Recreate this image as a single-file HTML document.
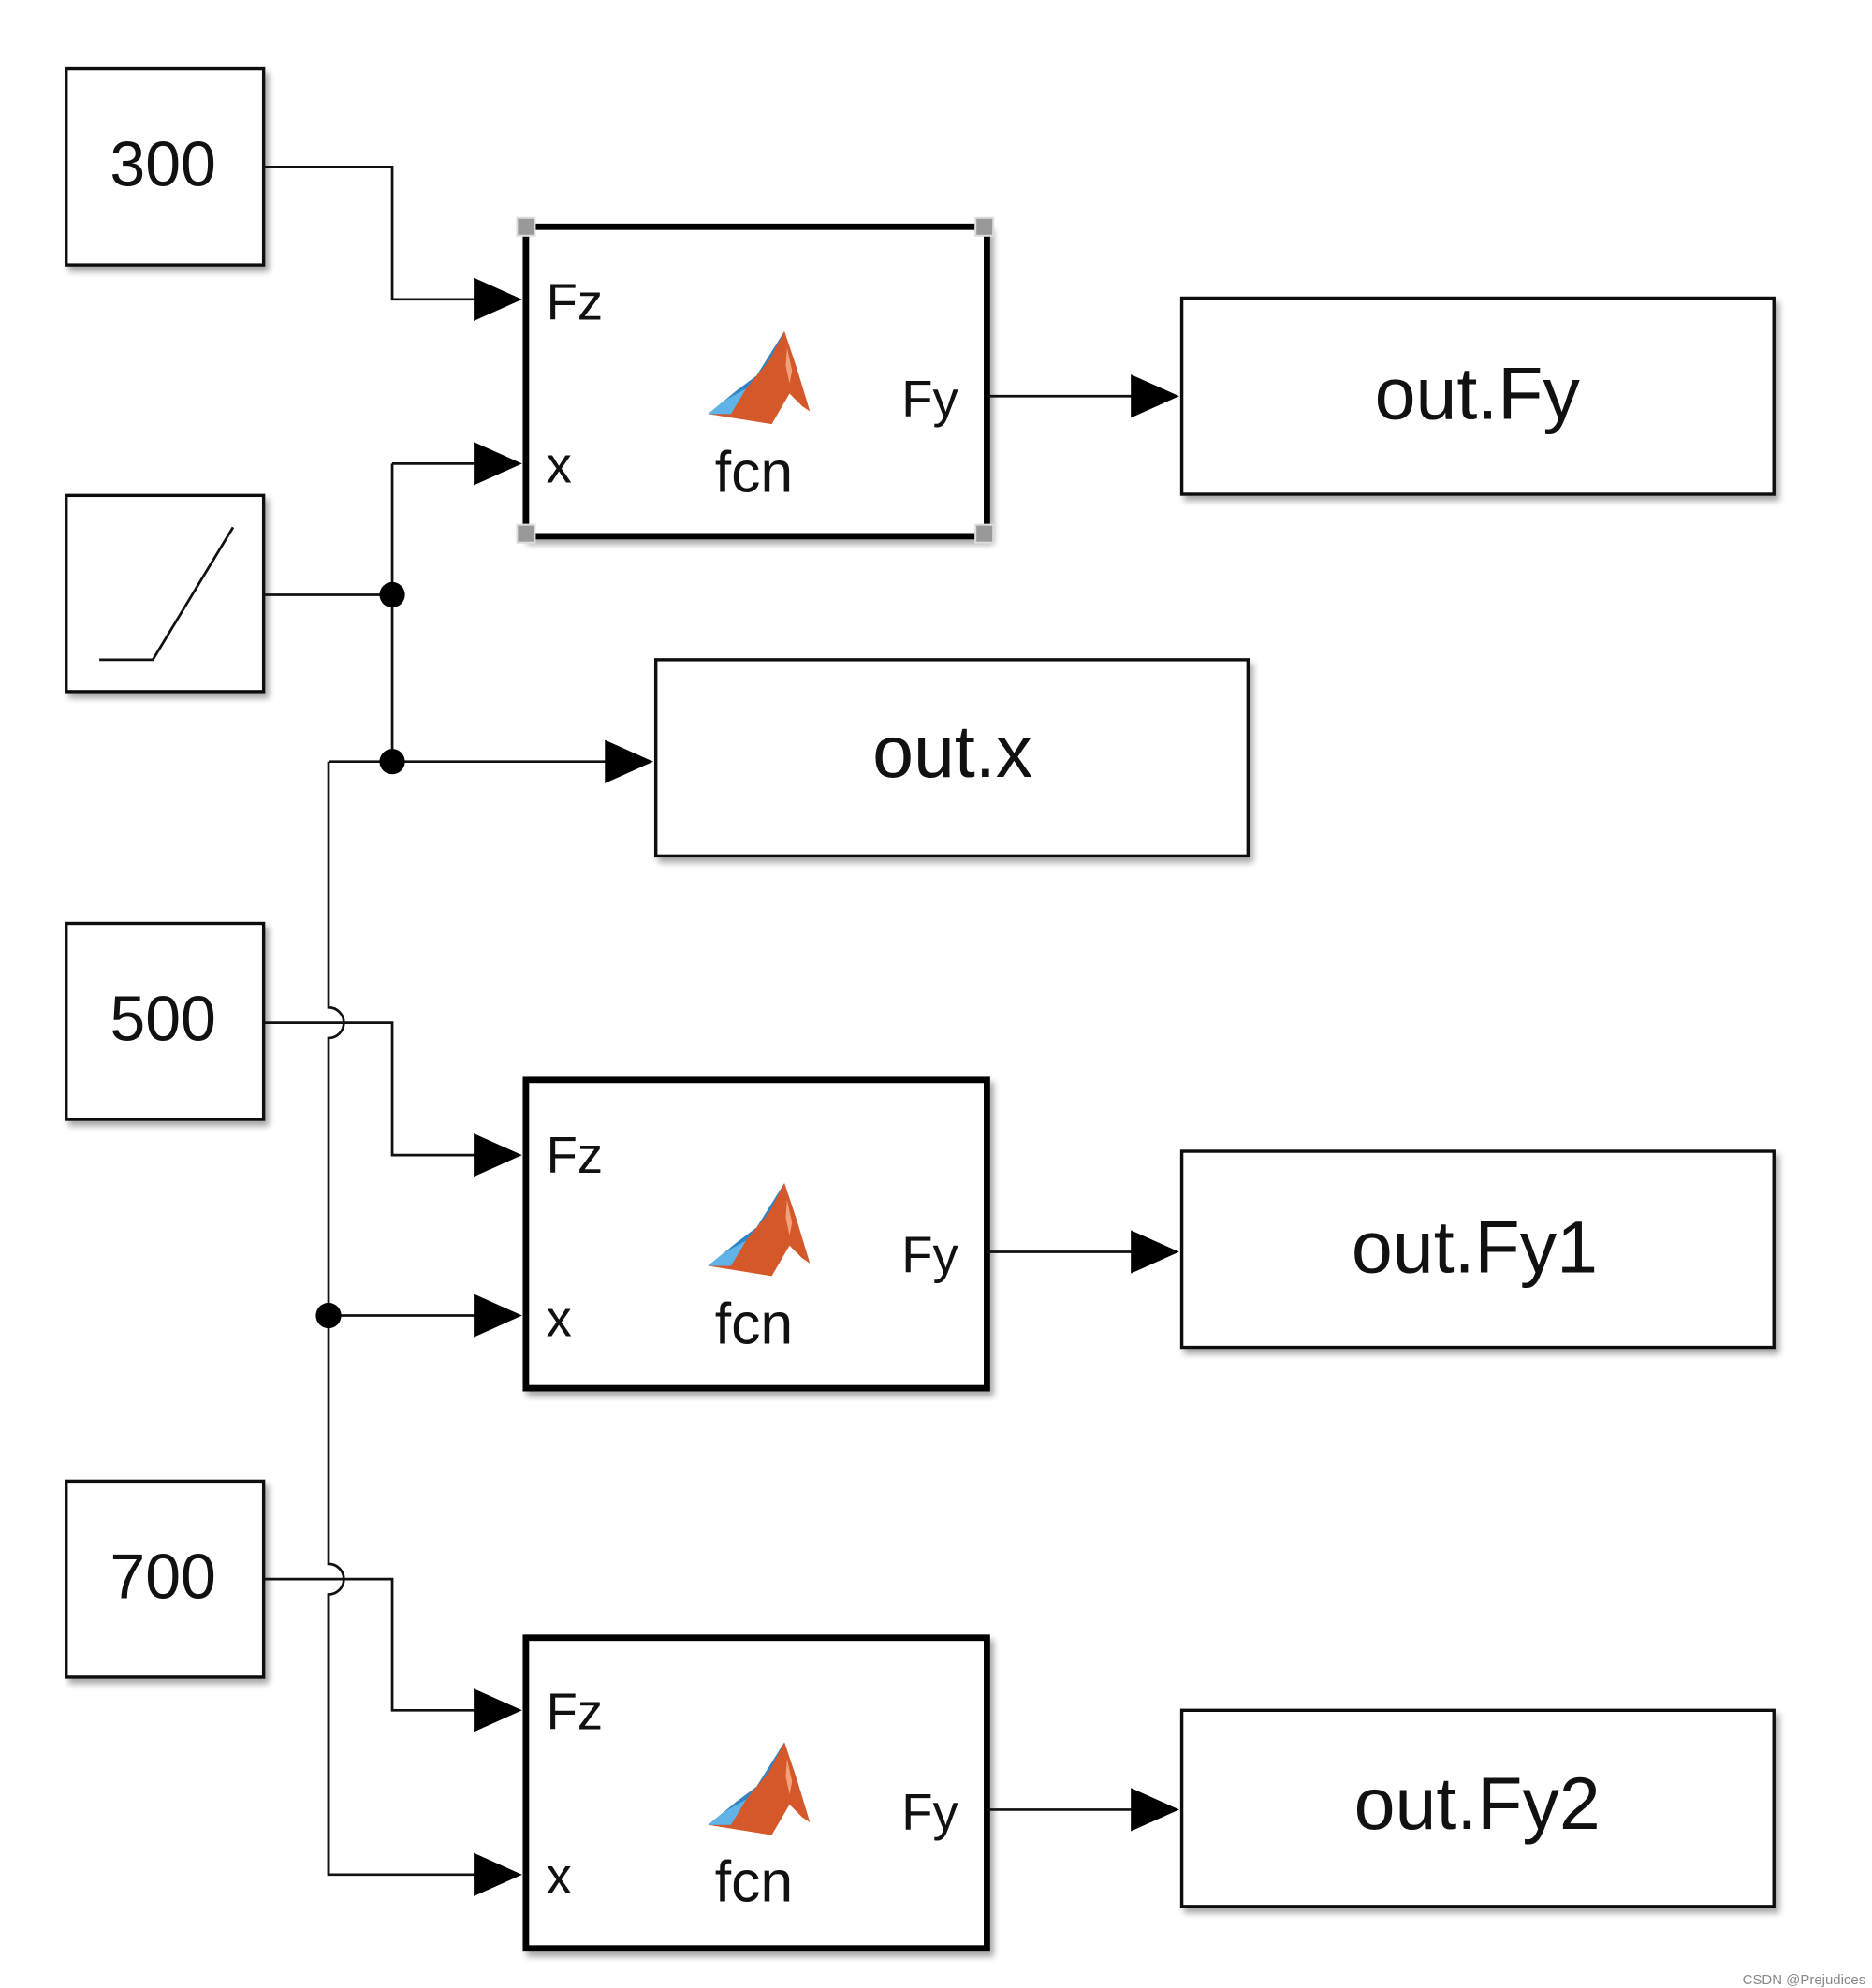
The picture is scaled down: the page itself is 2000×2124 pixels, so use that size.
<!DOCTYPE html>
<html><head><meta charset="utf-8"><style>
html,body{margin:0;padding:0;background:#fff}
svg{display:block}
text{font-family:"Liberation Sans",Arial,sans-serif;fill:#111}
</style></head><body>
<svg width="2000" height="2124" viewBox="0 0 1470 1561" xmlns="http://www.w3.org/2000/svg">
<defs>
<filter id="sh" x="-10%" y="-10%" width="130%" height="130%">
<feGaussianBlur in="SourceAlpha" stdDeviation="2.5"/>
<feOffset dx="3" dy="4"/>
<feComponentTransfer><feFuncA type="linear" slope="0.35"/></feComponentTransfer>
<feMerge><feMergeNode/><feMergeNode in="SourceGraphic"/></feMerge>
</filter>
<g id="logo">
<path d="M-40,30 L-18,12 L-2,0 L20,-35 L30,-5 L40,28 L34,24 L24,14 L10,38 Z" fill="#d4582a"/>
<path d="M-40,30 L-18,12 L-2,0 L20,-35 L8,-12 L-10,10 L-22,30 Z" fill="#2f86c6"/>
<path d="M-40,30 L-22,30 L-10,10 L-28,20 Z" fill="#5fb3e6"/>
<path d="M22,-22 L26,-4 L24,6 L21,-8 Z" fill="#f2a27a"/>
</g>
<g id="arr"><polygon points="0,-17 38,0 0,17" fill="#000"/></g>
</defs>

<!-- source blocks -->
<g fill="#fff" stroke="#111" stroke-width="2.5" filter="url(#sh)">
<rect x="52" y="54" width="155" height="154"/>
<rect x="52" y="389" width="155" height="154"/>
<rect x="52" y="725" width="155" height="154"/>
<rect x="52" y="1163" width="155" height="154"/>
<rect x="928" y="234" width="465" height="154"/>
<rect x="515" y="518" width="465" height="154"/>
<rect x="928" y="904" width="465" height="154"/>
<rect x="928" y="1343" width="465" height="154"/>
</g>
<g fill="#fff" stroke="#000" stroke-width="5" filter="url(#sh)">
<rect x="413" y="178" width="362" height="243"/>
<rect x="413" y="848" width="362" height="242"/>
<rect x="413" y="1286" width="362" height="244"/>
</g>
<!-- selection handles -->
<g fill="#999" stroke="#ddd" stroke-width="1.5">
<rect x="406" y="171" width="14" height="14"/>
<rect x="766" y="171" width="14" height="14"/>
<rect x="406" y="412" width="14" height="14"/>
<rect x="766" y="412" width="14" height="14"/>
</g>

<g font-size="50" text-anchor="middle">
<text x="128" y="146">300</text>
<text x="128" y="817">500</text>
<text x="128" y="1255">700</text>
</g>
<polyline points="78,518 120,518 183,414" fill="none" stroke="#111" stroke-width="2"/>

<g font-size="58" text-anchor="middle">
<text x="1160" y="329">out.Fy</text>
<text x="748" y="610">out.x</text>
<text x="1158" y="999">out.Fy1</text>
<text x="1160" y="1436">out.Fy2</text>
</g>

<!-- fcn blocks text -->
<g font-size="40">
<text x="429" y="251">Fz</text><text x="429" y="379">x</text><text x="708" y="327">Fy</text>
<text x="429" y="921">Fz</text><text x="429" y="1049">x</text><text x="708" y="999">Fy</text>
<text x="429" y="1358">Fz</text><text x="429" y="1487">x</text><text x="708" y="1437">Fy</text>
</g>
<g font-size="46" text-anchor="middle">
<text x="592" y="386">fcn</text>
<text x="592" y="1055">fcn</text>
<text x="592" y="1493">fcn</text>
</g>
<use href="#logo" x="596" y="295"/>
<use href="#logo" x="596" y="964"/>
<use href="#logo" x="596" y="1403"/>

<!-- wires -->
<g fill="none" stroke="#111" stroke-width="2">
<polyline points="207,131 308,131 308,235 374,235"/>
<polyline points="207,467 308,467"/>
<polyline points="308,364 374,364"/>
<polyline points="308,364 308,598"/>
<polyline points="258,1472 258,1252 M0,0"/>
<path d="M258,598 L478,598"/>
<path d="M258,598 L258,791 A12,12 0 0 1 258,815 L258,1228 A12,12 0 0 1 258,1252 L258,1472 L374,1472"/>
<polyline points="207,803 308,803 308,907 374,907"/>
<polyline points="207,1240 308,1240 308,1343 374,1343"/>
<polyline points="258,1033 374,1033"/>
<polyline points="775,311 890,311"/>
<polyline points="775,983 890,983"/>
<polyline points="775,1421 890,1421"/>
</g>
<g fill="#000">
<circle cx="308" cy="467" r="10"/>
<circle cx="308" cy="598" r="10"/>
<circle cx="258" cy="1033" r="10"/>
</g>
<use href="#arr" x="372" y="235"/>
<use href="#arr" x="372" y="364"/>
<use href="#arr" x="475" y="598"/>
<use href="#arr" x="372" y="907"/>
<use href="#arr" x="372" y="1033"/>
<use href="#arr" x="372" y="1343"/>
<use href="#arr" x="372" y="1472"/>
<use href="#arr" x="888" y="311"/>
<use href="#arr" x="888" y="983"/>
<use href="#arr" x="888" y="1421"/>

<text x="1465" y="1558" font-size="11" text-anchor="end" style="fill:#888">CSDN @Prejudices</text>
</svg>
</body></html>
